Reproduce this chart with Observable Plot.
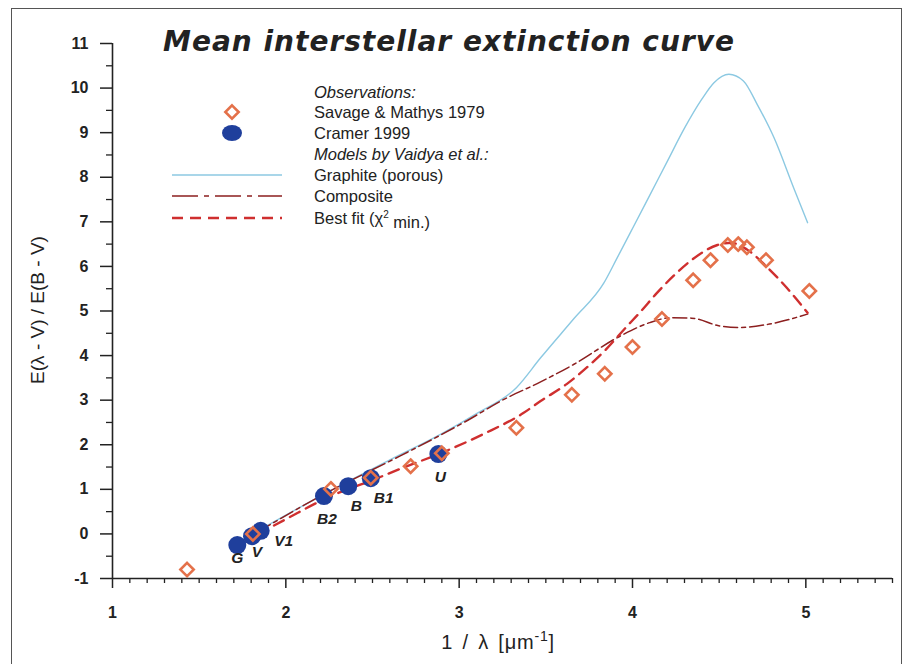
<!DOCTYPE html>
<html><head><meta charset="utf-8">
<script src="https://cdn.jsdelivr.net/npm/d3@7"></script>
<script src="https://cdn.jsdelivr.net/npm/@observablehq/plot@0.6"></script>
<style>
body{margin:0;background:#fff;font-family:"Liberation Sans",Arial,sans-serif;color:#222;}
#wrap{position:relative;width:904px;height:664px;overflow:hidden;background:#fff;}
#frame{position:absolute;left:11px;top:8px;width:891px;height:720px;border:1.6px solid #555;box-sizing:border-box;pointer-events:none;}
#chart{position:absolute;left:0;top:0;}
#title{position:absolute;left:0;width:898px;top:25px;text-align:center;font-family:"DejaVu Sans",sans-serif;font-weight:bold;font-style:italic;font-size:28px;color:#222;letter-spacing:1px;}
#legend{position:absolute;left:0;top:0;width:904px;height:664px;pointer-events:none;}
.xlab{position:absolute;top:628px;left:108px;width:780px;text-align:center;font-size:20px;color:#222;word-spacing:3px;letter-spacing:0.8px;}
.ylab{position:absolute;left:38px;top:310px;transform:translate(-50%,-50%) rotate(-90deg);white-space:nowrap;font-size:19px;color:#222;}
</style></head>
<body>
<div id="wrap">
  <div id="chart"></div>
  <div id="title">Mean interstellar extinction curve</div>
  <svg id="legend"></svg>
  <div class="xlab">1 / λ [μm<sup style="font-size:14px">-1</sup>]</div>
  <div class="ylab">E(λ - V) / E(B - V)</div>
  <div id="frame"></div>
</div>
<script>
// ---- data ----
const savageX = [1.43, 1.81, 2.26, 2.49, 2.72, 2.90, 3.33, 3.65, 3.84, 4.00, 4.17, 4.35, 4.45, 4.55, 4.61, 4.66, 4.77, 5.02];
const savageY = [-0.80, 0.00, 1.01, 1.26, 1.52, 1.81, 2.38, 3.12, 3.59, 4.19, 4.82, 5.69, 6.14, 6.48, 6.50, 6.43, 6.14, 5.45];

const cramerBands = ["G", "V", "V1", "B2", "B", "B1", "U"];
const cramerX = [1.72, 1.805, 1.855, 2.22, 2.36, 2.49, 2.88];
const cramerY = [-0.25, -0.05, 0.07, 0.85, 1.07, 1.25, 1.79];

const graphiteX = [1.83, 2.2, 2.6, 2.9, 3.1, 3.33, 3.47, 3.66, 3.835, 3.91, 4.0, 4.1, 4.2, 4.3, 4.4, 4.47, 4.556, 4.64, 4.72, 4.816, 4.93, 5.01];
const graphiteY = [0.05, 0.85, 1.66, 2.25, 2.7, 3.28, 3.95, 4.82, 5.63, 6.18, 6.85, 7.6, 8.35, 9.1, 9.75, 10.12, 10.31, 10.16, 9.63, 8.89, 7.76, 6.98];

const compositeX = [1.84, 2.2, 2.66, 2.85, 3.05, 3.24, 3.47, 3.66, 3.93, 4.10, 4.22, 4.34, 4.51, 4.62, 4.78, 5.01];
const compositeY = [0.05, 0.85, 1.75, 2.13, 2.55, 2.98, 3.41, 3.80, 4.44, 4.74, 4.85, 4.84, 4.66, 4.63, 4.70, 4.93];

const bestFitX = [1.84, 2.0, 2.26, 2.49, 2.66, 2.9, 3.14, 3.37, 3.47, 3.62, 3.75, 3.85, 3.95, 4.05, 4.14, 4.24, 4.34, 4.49, 4.57, 4.66, 4.78, 4.89, 5.01];
const bestFitY = [0.0, 0.33, 0.85, 1.19, 1.46, 1.82, 2.24, 2.71, 2.98, 3.36, 3.78, 4.15, 4.58, 5.0, 5.4, 5.8, 6.14, 6.48, 6.53, 6.38, 5.97, 5.52, 4.96];

const xMajorTicks = [1, 2, 3, 4, 5];
const yMajorTicks = [-1, 0, 1, 2, 3, 4, 5, 6, 7, 8, 9, 10, 11];

const legendLabels = ["Observations:", "Savage & Mathys 1979", "Cramer 1999", "Models by Vaidya et al.:", "Graphite (porous)", "Composite", "Best fit (χ² min.)"];

// ---- styles ----
const C = {savage: "#e4714a", cramer: "#1f3f9c", graphite: "#8cc9e2", composite: "#8c1f1f", best: "#cf2f2f", ink: "#222"};
const labelOffsets = {G: [0, 13], V: [5, 16], V1: [23, 10], B2: [3, 23], B: [8, 20], B1: [13, 20], U: [2, 23]};

const savage = savageX.map((x, i) => ({x, y: savageY[i]}));
const cramer = cramerX.map((x, i) => ({x, y: cramerY[i], band: cramerBands[i]}));
const graphite = graphiteX.map((x, i) => ({x, y: graphiteY[i]}));
const composite = compositeX.map((x, i) => ({x, y: compositeY[i]}));
const bestFit = bestFitX.map((x, i) => ({x, y: bestFitY[i]}));

const xMinorTicks = d3.range(10, 56).map(d => d / 10).filter(d => !xMajorTicks.includes(d));
const yMinorTicks = d3.range(-1, 11, 1).map(d => d + 0.5);

const font = "'Liberation Sans', Arial, sans-serif";
const plain = d => String(d);

const chart = Plot.plot({
  width: 904, height: 664,
  marginLeft: 112, marginRight: 12, marginTop: 43, marginBottom: 86,
  x: {domain: [1, 5.5]},
  y: {domain: [-1, 11]},
  style: {fontFamily: font, background: "transparent", color: C.ink, overflow: "visible"},
  marks: [
    Plot.ruleX([1], {stroke: C.ink, strokeWidth: 1.6}),
    Plot.ruleY([-1], {stroke: C.ink, strokeWidth: 1.6}),
    Plot.axisY({ticks: yMajorTicks, tickFormat: plain, tickSize: 12, tickPadding: 12, fontSize: 16, fontWeight: "bold", label: null, strokeWidth: 1.5, stroke: C.ink}),
    Plot.axisY({ticks: yMinorTicks, tickSize: 6, tickFormat: () => "", label: null, strokeWidth: 1.3, stroke: C.ink}),
    Plot.axisX({ticks: xMajorTicks, tickFormat: plain, tickSize: 10, tickPadding: 18, fontSize: 16, fontWeight: "bold", label: null, strokeWidth: 1.5, stroke: C.ink}),
    Plot.axisX({ticks: xMinorTicks, tickSize: 5, tickFormat: () => "", label: null, strokeWidth: 1.3, stroke: C.ink}),
    Plot.line(graphite, {x: "x", y: "y", stroke: C.graphite, strokeWidth: 1.4, curve: "monotone-x"}),
    Plot.line(composite, {x: "x", y: "y", stroke: C.composite, strokeWidth: 1.5, strokeDasharray: "14,4,4,4", curve: "monotone-x"}),
    Plot.line(bestFit, {x: "x", y: "y", stroke: C.best, strokeWidth: 2.4, strokeDasharray: "11,7", curve: "monotone-x"}),
    Plot.dot(cramer, {x: "x", y: "y", r: 9, fill: C.cramer, stroke: null}),
    Plot.dot(savage, {x: "x", y: "y", symbol: "diamond2", r: 6, stroke: C.savage, strokeWidth: 2.6, fill: "none"}),
    ...cramer.map(d => Plot.text([d], {x: "x", y: "y", text: "band", dx: labelOffsets[d.band][0], dy: labelOffsets[d.band][1],
      fontSize: 15.5, fontWeight: "bold", fontStyle: "italic", fill: C.ink}))
  ]
});
document.getElementById("chart").appendChild(chart);

// ---- legend (overlay) ----
const lg = d3.select("#legend");
const rowY = [92, 112, 133, 154, 175, 196, 218];
const textX = 314;
legendLabels.forEach((t, i) => {
  const italic = i === 0 || i === 3;
  const txt = lg.append("text").attr("x", textX).attr("y", rowY[i]).attr("dy", "0.35em")
    .attr("font-family", font).attr("font-size", 16.5).attr("fill", C.ink)
    .attr("font-style", italic ? "italic" : "normal");
  if (t.includes("²")) {
    txt.text("Best fit (χ");
    txt.append("tspan").attr("font-size", 10).attr("dy", "-0.6em").text("2");
    txt.append("tspan").attr("dy", "0.6em").text(" min.)");
  } else txt.text(t);
});
const d2 = d3.symbol(d3.symbolDiamond2, Math.PI * 6 * 6)();
lg.append("path").attr("d", d2).attr("transform", `translate(232,${rowY[1]})`).attr("fill", "none").attr("stroke", C.savage).attr("stroke-width", 2.6);
lg.append("ellipse").attr("cx", 232).attr("cy", rowY[2]).attr("rx", 10).attr("ry", 8).attr("fill", C.cramer);
lg.append("line").attr("x1", 172).attr("x2", 282).attr("y1", rowY[4]).attr("y2", rowY[4]).attr("stroke", C.graphite).attr("stroke-width", 1.4);
lg.append("line").attr("x1", 172).attr("x2", 282).attr("y1", rowY[5]).attr("y2", rowY[5]).attr("stroke", C.composite).attr("stroke-width", 1.5).attr("stroke-dasharray", "26,6,5,6");
lg.append("line").attr("x1", 172).attr("x2", 282).attr("y1", rowY[6]).attr("y2", rowY[6]).attr("stroke", C.best).attr("stroke-width", 2.4).attr("stroke-dasharray", "11,7");
</script>
</body></html>
